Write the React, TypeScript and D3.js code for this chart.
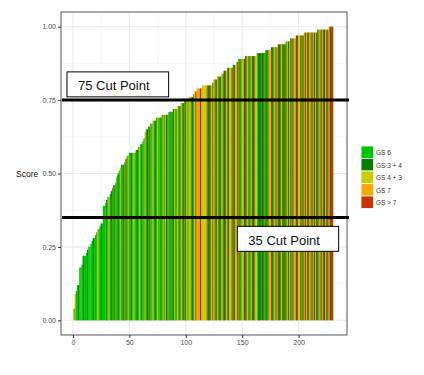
import React, { Component } from "react";
import * as d3 from "d3";

// scores, already sorted, one bar each
const scores = [
  0.04, 0.09, 0.10, 0.12, 0.12, 0.18, 0.18, 0.19, 0.22, 0.22,
  0.22, 0.23, 0.24, 0.25, 0.25, 0.26, 0.27, 0.28, 0.28, 0.29,
  0.30, 0.31, 0.31, 0.32, 0.33, 0.33, 0.39, 0.39, 0.40, 0.41,
  0.42, 0.42, 0.43, 0.44, 0.45, 0.46, 0.46, 0.47, 0.49, 0.50,
  0.51, 0.52, 0.53, 0.53, 0.53, 0.54, 0.55, 0.56, 0.56, 0.57,
  0.57, 0.57, 0.57, 0.57, 0.57, 0.58, 0.58, 0.59, 0.59, 0.60,
  0.60, 0.61, 0.62, 0.64, 0.65, 0.65, 0.66, 0.66, 0.67, 0.67,
  0.68, 0.68, 0.68, 0.69, 0.69, 0.69, 0.69, 0.69, 0.70, 0.70,
  0.70, 0.70, 0.70, 0.70, 0.71, 0.71, 0.71, 0.71, 0.72, 0.72,
  0.72, 0.72, 0.73, 0.73, 0.73, 0.74, 0.74, 0.74, 0.75, 0.75,
  0.75, 0.75, 0.76, 0.76, 0.76, 0.76, 0.77, 0.78, 0.78, 0.79,
  0.79, 0.79, 0.79, 0.79, 0.80, 0.80, 0.80, 0.80, 0.80, 0.80,
  0.80, 0.80, 0.80, 0.81, 0.82, 0.82, 0.82, 0.83, 0.83, 0.83,
  0.83, 0.84, 0.84, 0.85, 0.85, 0.85, 0.86, 0.86, 0.86, 0.86,
  0.86, 0.87, 0.87, 0.87, 0.88, 0.88, 0.89, 0.89, 0.89, 0.89,
  0.89, 0.89, 0.90, 0.90, 0.90, 0.90, 0.90, 0.90, 0.90, 0.90,
  0.90, 0.90, 0.91, 0.91, 0.91, 0.91, 0.91, 0.91, 0.91, 0.91,
  0.92, 0.92, 0.92, 0.92, 0.92, 0.93, 0.93, 0.93, 0.93, 0.93,
  0.93, 0.94, 0.94, 0.94, 0.94, 0.94, 0.94, 0.94, 0.95, 0.95,
  0.95, 0.95, 0.96, 0.96, 0.96, 0.96, 0.96, 0.97, 0.97, 0.97,
  0.97, 0.97, 0.97, 0.97, 0.98, 0.98, 0.98, 0.98, 0.98, 0.98,
  0.98, 0.98, 0.98, 0.98, 0.98, 0.98, 0.99, 0.99, 0.99, 0.99,
  0.99, 0.99, 0.99, 0.99, 0.99, 0.99, 1.00, 1.00, 1.00, 1.00,
];

// grade group of each bar: a=GS 6, b=GS 3+4, c=GS 4+3, d=GS 7, e=GS > 7
const gradeCodes =
  "adaabaaaba" + "aabaaaabaa" + "adaabaaaab" + "adabaaeaab" +
  "adaabaeada" + "abadaabada" + "baadabaeaa" + "dabadaabad" +
  "adbaaeaabd" + "aadbadaeab" + "daddabaded" + "ddbdddcdae" +
  "badedabdae" + "bdabedabdd" + "eabddeabad" + "dbeadbadeb" +
  "adcbbbabea" + "bbaddebadb" + "debadbbeac" + "bdeabddbed" +
  "dbaedbdebd" + "aedbdbeadb" + "debdbedbee";

const gradeKeys = ["a", "b", "c", "d", "e"];
const gradeLabels = ["GS 6", "GS 3 + 4", "GS 4 + 3", "GS 7", "GS > 7"];
const gradeColors = ["#00C800", "#008200", "#CCCC00", "#FFA500", "#CC3300"];

const xTicks = [0, 50, 100, 150, 200];
const yTicks = [0, 0.25, 0.5, 0.75, 1];

const cutPoints = [0.75, 0.35];
const cutLabels = ["75 Cut Point", "35 Cut Point"];
// label boxes in data units: [x0, x1, yTop, yBottom]
const cutBoxes = [
  [-5.3, 84.8, 0.846, 0.761],
  [145.7, 235.5, 0.32, 0.235],
];

export default class App extends Component {
  chartRef = React.createRef<SVGSVGElement>();

  componentDidMount() {
    let svg = d3.select(this.chartRef.current);
    svg.selectAll("*").remove();

    let left = 61, right = 347, top = 12, bottom = 335;

    let x = d3.scaleLinear().domain([-10.6, 242.9]).range([left, right]);
    let y = d3.scaleLinear().domain([-0.05, 1.05]).range([bottom, top]);
    let color = d3.scaleOrdinal<string, string>().domain(gradeKeys).range(gradeColors);

    let data = scores.map((s, i) => ({ idx: i + 1, score: s, grade: gradeCodes[i] }));

    // panel background + grid
    svg.append("rect")
      .attr("x", left).attr("y", top)
      .attr("width", right - left).attr("height", bottom - top)
      .attr("fill", "white");

    let grid = svg.append("g");
    let xMinor = [25, 75, 125, 175, 225];
    let yMinor = [0.125, 0.375, 0.625, 0.875];
    grid.selectAll(".xminor").data(xMinor).enter().append("line")
      .attr("x1", d => x(d)).attr("x2", d => x(d))
      .attr("y1", top).attr("y2", bottom)
      .attr("stroke", "#F2F2F2").attr("stroke-width", 0.6);
    grid.selectAll(".yminor").data(yMinor).enter().append("line")
      .attr("y1", d => y(d)).attr("y2", d => y(d))
      .attr("x1", left).attr("x2", right)
      .attr("stroke", "#F2F2F2").attr("stroke-width", 0.6);
    grid.selectAll(".xmajor").data(xTicks).enter().append("line")
      .attr("x1", d => x(d)).attr("x2", d => x(d))
      .attr("y1", top).attr("y2", bottom)
      .attr("stroke", "#EBEBEB").attr("stroke-width", 1.1);
    grid.selectAll(".ymajor").data(yTicks).enter().append("line")
      .attr("y1", d => y(d)).attr("y2", d => y(d))
      .attr("x1", left).attr("x2", right)
      .attr("stroke", "#EBEBEB").attr("stroke-width", 1.1);

    // bars (slightly widened so no seams show between them)
    svg.append("g")
      .selectAll("rect")
      .data(data)
      .enter().append("rect")
        .attr("x", d => x(d.idx - 0.5))
        .attr("width", x(1) - x(0) + 0.3)
        .attr("y", d => y(d.score))
        .attr("height", d => y(0) - y(d.score))
        .attr("fill", d => color(d.grade));

    // panel border
    svg.append("rect")
      .attr("x", left).attr("y", top)
      .attr("width", right - left).attr("height", bottom - top)
      .attr("fill", "none").attr("stroke", "#555").attr("stroke-width", 1);

    // axes
    let yAxis = svg.append("g").attr("transform", `translate(${left},0)`)
      .call(d3.axisLeft(y).tickValues(yTicks).tickFormat(d3.format(".2f")).tickSize(3).tickPadding(2));
    let xAxis = svg.append("g").attr("transform", `translate(0,${bottom})`)
      .call(d3.axisBottom(x).tickValues(xTicks).tickSize(3).tickPadding(2));
    [xAxis, yAxis].forEach(ax => {
      ax.select(".domain").remove();
      ax.selectAll(".tick line").attr("stroke", "#333");
      ax.selectAll(".tick text")
        .attr("fill", "#4D4D4D")
        .style("font-family", "Liberation Sans, Arial, sans-serif")
        .style("font-size", "7px");
    });

    svg.append("text")
      .attr("x", 16).attr("y", y(0.5) + 3)
      .style("font-family", "Liberation Sans, Arial, sans-serif")
      .style("font-size", "8.5px")
      .attr("fill", "#111")
      .text("Score");

    // cut point lines
    svg.append("g").selectAll("line").data(cutPoints).enter().append("line")
      .attr("x1", left + 1).attr("x2", right + 2)
      .attr("y1", d => y(d)).attr("y2", d => y(d))
      .attr("stroke", "black").attr("stroke-width", 3);

    let boxes = svg.append("g").selectAll("g").data(cutBoxes).enter().append("g");
    boxes.append("rect")
      .attr("x", d => x(d[0])).attr("y", d => y(d[2]))
      .attr("width", d => x(d[1]) - x(d[0]))
      .attr("height", d => y(d[3]) - y(d[2]))
      .attr("fill", "white").attr("stroke", "black").attr("stroke-width", 1);
    boxes.append("text")
      .attr("x", d => x(d[0]) + 11)
      .attr("y", d => y(d[2]) + 18.5)
      .style("font-family", "Liberation Sans, Arial, sans-serif")
      .style("font-size", "13px")
      .attr("fill", "#111")
      .text((d, i) => cutLabels[i]);

    // legend
    let legend = svg.append("g").attr("transform", "translate(361,146)");
    let items = legend.selectAll("g").data(gradeKeys).enter().append("g")
      .attr("transform", (d, i) => `translate(0,${i * 12.5})`);
    items.append("rect")
      .attr("width", 12.5).attr("height", 12.5)
      .attr("fill", d => color(d))
      .attr("stroke", "white").attr("stroke-width", 0.8);
    items.append("text")
      .attr("x", 15).attr("y", 9)
      .style("font-family", "Liberation Sans, Arial, sans-serif")
      .style("font-size", "6.5px")
      .attr("fill", "#333")
      .text((d, i) => gradeLabels[i]);
  }

  render() {
    return (
      <svg
        ref={this.chartRef}
        width={424}
        height={375}
        style={{ position: "absolute", left: 0, top: 0, background: "white" }}
      />
    );
  }
}
